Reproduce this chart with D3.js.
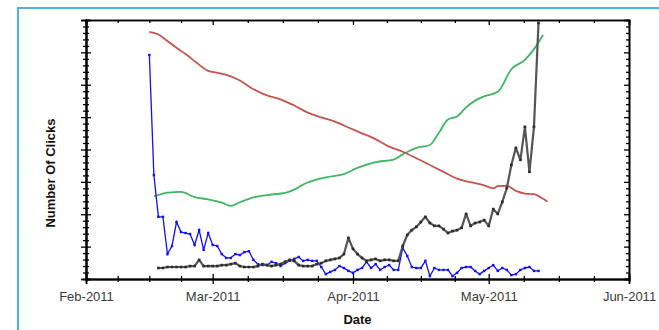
<!DOCTYPE html>
<html>
<head>
<meta charset="utf-8">
<script src="https://cdn.jsdelivr.net/npm/d3@7"></script>
<style>
  body { margin: 0; background: #fff; }
  svg { display: block; font-family: "Liberation Sans", Arial, sans-serif; }
</style>
</head>
<body>
<svg id="chart" width="659" height="330"></svg>
<script>
// Month ticks on the date axis
const monthTicks = ["2011-02-01", "2011-03-01", "2011-04-01", "2011-05-01", "2011-06-01"];

// Daily click counts (blue series), starting on blueStart
const blueStart = "2011-02-15";
const blueValues = [
  692, 321, 192, 192, 77, 102, 176, 145, 142, 139, 105, 151, 90, 142,
  105, 102, 77, 65, 65, 77, 74, 83, 86, 59, 46, 43, 43, 53, 49, 40, 49, 56, 62, 68, 56, 59, 56, 56, 37, 15, 22, 28, 40, 34, 25,
  19, 28, 34, 53, 34, 46, 28, 37, 43, 28, 28, 96, 71, 37, 34, 34, 56, 9, 34, 28, 28, 28, 9, 19, 34, 37, 37, 25, 15, 25,
  34, 43, 25, 34, 28, 12, 15, 28, 34, 37, 25, 25
];

// Daily click counts (black series), starting on blackStart
const blackStart = "2011-02-17";
const blackValues = [
  34, 34, 37, 37, 37, 37, 37, 40, 40, 59, 40, 40,
  40, 40, 43, 43, 46, 49, 40, 37, 37, 37, 40, 46, 43, 40, 43, 46, 53, 59, 56, 43, 40, 40, 40, 46, 49, 56, 59, 62, 65, 77, 127,
  93, 77, 65, 56, 59, 62, 56, 59, 59, 56, 56, 102, 136, 151, 161, 176, 192, 173, 164, 164, 154, 142, 148, 151, 158, 201, 164, 173, 176, 182,
  164, 216, 201, 238, 281, 352, 405, 368, 470, 331, 470, 791
];

// Smoothed trend (red series)
const redDates = [
  "2011-02-15", "2011-02-17", "2011-02-19", "2011-02-21", "2011-02-23", "2011-02-25", "2011-02-28",
  "2011-03-02", "2011-03-05", "2011-03-07", "2011-03-10", "2011-03-13", "2011-03-16", "2011-03-19",
  "2011-03-22", "2011-03-25", "2011-03-28", "2011-03-31", "2011-04-03", "2011-04-06", "2011-04-09",
  "2011-04-12", "2011-04-15", "2011-04-18", "2011-04-21", "2011-04-24", "2011-04-27", "2011-04-30",
  "2011-05-02", "2011-05-03", "2011-05-05", "2011-05-07", "2011-05-09", "2011-05-11", "2011-05-12", "2011-05-14"
];
const redValues = [
  763, 755, 735, 714, 695, 673, 643,
  637, 626, 613, 586, 567, 555, 536,
  514, 499, 486, 468, 450, 432, 409,
  393, 373, 352, 331, 310, 299, 289,
  280, 287, 288, 272, 264, 262, 256, 239
];

// Smoothed trend (green series)
const greenDates = [
  "2011-02-16", "2011-02-19", "2011-02-22", "2011-02-25", "2011-02-28", "2011-03-03", "2011-03-05",
  "2011-03-07", "2011-03-10", "2011-03-14", "2011-03-17", "2011-03-19", "2011-03-21", "2011-03-26",
  "2011-03-30", "2011-04-02", "2011-04-06", "2011-04-10", "2011-04-12", "2011-04-15", "2011-04-18",
  "2011-04-20", "2011-04-22", "2011-04-24", "2011-04-26", "2011-04-28", "2011-04-30", "2011-05-03",
  "2011-05-06", "2011-05-09", "2011-05-11", "2011-05-13"
];
const greenValues = [
  255, 267, 269, 253, 246, 236, 226,
  237, 252, 261, 266, 276, 292, 314,
  324, 343, 361, 369, 385, 405, 414,
  452, 493, 502, 530, 551, 564, 578,
  648, 677, 710, 754
];

const yMax = 800;
const yMajorStep = 100;
const yMinorStep = 20;

const parse = d3.timeParse("%Y-%m-%d");
const svg = d3.select("#chart");

const plot = { left: 86, right: 629, top: 20, bottom: 279 };

const x = d3.scaleTime()
  .domain([parse(monthTicks[0]), parse(monthTicks[monthTicks.length - 1])])
  .range([plot.left, plot.right]);
const y = d3.scaleLinear().domain([0, yMax]).range([plot.bottom, plot.top]);

// outer frame
svg.append("rect")
  .attr("x", 18).attr("y", 8).attr("width", 700).attr("height", 400)
  .attr("fill", "#fff").attr("stroke", "#4cb6d6").attr("stroke-width", 2);

// minor ticks: each month split into four
const months = monthTicks.map(parse);
const minorDates = [];
for (let i = 0; i < months.length - 1; i++) {
  const a = +months[i], b = +months[i + 1];
  for (let k = 1; k < 4; k++) minorDates.push(new Date(a + (b - a) * k / 4));
}
const yMajor = d3.range(0, yMax + 1, yMajorStep);
const yMinor = d3.range(0, yMax + 1, yMinorStep).filter(v => v % yMajorStep !== 0);

function styleAxis(g) {
  g.select(".domain").attr("stroke", "#000").attr("stroke-width", 1.6);
  g.selectAll(".tick line").attr("stroke", "#000").attr("stroke-width", 1.3);
}

// bottom axis: labelled month ticks, crossing the axis line
svg.append("g").attr("transform", `translate(0,${plot.bottom})`)
  .call(d3.axisBottom(x).tickValues(months).tickSize(5).tickPadding(8)
    .tickFormat(d3.timeFormat("%b-%Y")))
  .call(styleAxis)
  .call(g => g.selectAll("text").attr("font-size", 13).attr("fill", "#3a3a3a")
    .attr("font-family", "'Liberation Sans', Arial, sans-serif"));
svg.append("g").attr("transform", `translate(0,${plot.bottom})`)
  .call(d3.axisTop(x).tickValues(months).tickSize(5).tickFormat(""))
  .call(styleAxis);
svg.append("g").attr("transform", `translate(0,${plot.bottom})`)
  .call(d3.axisBottom(x).tickValues(minorDates).tickSize(3).tickFormat(""))
  .call(styleAxis);
svg.append("g").attr("transform", `translate(0,${plot.bottom})`)
  .call(d3.axisTop(x).tickValues(minorDates).tickSize(3).tickFormat(""))
  .call(styleAxis);

// top axis: inward ticks
svg.append("g").attr("transform", `translate(0,${plot.top})`)
  .call(d3.axisBottom(x).tickValues(months).tickSize(5).tickFormat(""))
  .call(styleAxis);
svg.append("g").attr("transform", `translate(0,${plot.top})`)
  .call(d3.axisBottom(x).tickValues(minorDates).tickSize(3).tickFormat(""))
  .call(styleAxis);

// left axis: ticks crossing the line, no labels
svg.append("g").attr("transform", `translate(${plot.left},0)`)
  .call(d3.axisLeft(y).tickValues(yMajor).tickSize(5).tickFormat(""))
  .call(styleAxis);
svg.append("g").attr("transform", `translate(${plot.left},0)`)
  .call(d3.axisRight(y).tickValues(yMajor).tickSize(5).tickFormat(""))
  .call(styleAxis);
svg.append("g").attr("transform", `translate(${plot.left},0)`)
  .call(d3.axisLeft(y).tickValues(yMinor).tickSize(3).tickFormat(""))
  .call(styleAxis);
svg.append("g").attr("transform", `translate(${plot.left},0)`)
  .call(d3.axisRight(y).tickValues(yMinor).tickSize(3).tickFormat(""))
  .call(styleAxis);

// right axis: inward ticks
svg.append("g").attr("transform", `translate(${plot.right},0)`)
  .call(d3.axisLeft(y).tickValues(yMajor).tickSize(5).tickFormat(""))
  .call(styleAxis);
svg.append("g").attr("transform", `translate(${plot.right},0)`)
  .call(d3.axisLeft(y).tickValues(yMinor).tickSize(3).tickFormat(""))
  .call(styleAxis);

// axis titles
svg.append("text")
  .attr("x", (plot.left + plot.right) / 2).attr("y", 324)
  .attr("text-anchor", "middle").attr("font-size", 13).attr("font-weight", "bold")
  .attr("fill", "#111").text("Date");
svg.append("text")
  .attr("transform", "translate(55,173) rotate(-90)")
  .attr("text-anchor", "middle").attr("font-size", 13).attr("font-weight", "bold")
  .attr("fill", "#111").text("Number Of Clicks");

// series
const daily = (start, values) => values.map((v, i) => ({ date: d3.timeDay.offset(parse(start), i), value: v }));
const paired = (dates, values) => dates.map((d, i) => ({ date: parse(d), value: values[i] }));

const blue = daily(blueStart, blueValues);
const black = daily(blackStart, blackValues);
const red = paired(redDates, redValues);
const green = paired(greenDates, greenValues);

const smooth = d3.line().x(d => x(d.date)).y(d => y(d.value)).curve(d3.curveMonotoneX);
const straight = d3.line().x(d => x(d.date)).y(d => y(d.value));

svg.append("path").datum(green).attr("d", smooth)
  .attr("fill", "none").attr("stroke", "#3fb565").attr("stroke-width", 1.8);
svg.append("path").datum(red).attr("d", smooth)
  .attr("fill", "none").attr("stroke", "#c2564f").attr("stroke-width", 1.8);

svg.append("path").datum(blue).attr("d", straight)
  .attr("fill", "none").attr("stroke", "#1010f0").attr("stroke-width", 1.3);
svg.append("g").selectAll("rect").data(blue).join("rect")
  .attr("x", d => x(d.date) - 1.2).attr("y", d => y(d.value) - 1.2)
  .attr("width", 2.4).attr("height", 2.4).attr("fill", "#1010f0");

svg.append("path").datum(black).attr("d", straight)
  .attr("fill", "none").attr("stroke", "#555").attr("stroke-width", 2.2)
  .attr("stroke-linejoin", "round");
svg.append("g").selectAll("rect").data(black).join("rect")
  .attr("x", d => x(d.date) - 1.3).attr("y", d => y(d.value) - 1.3)
  .attr("width", 2.6).attr("height", 2.6).attr("fill", "#2a2a2a");
</script>
</body>
</html>
